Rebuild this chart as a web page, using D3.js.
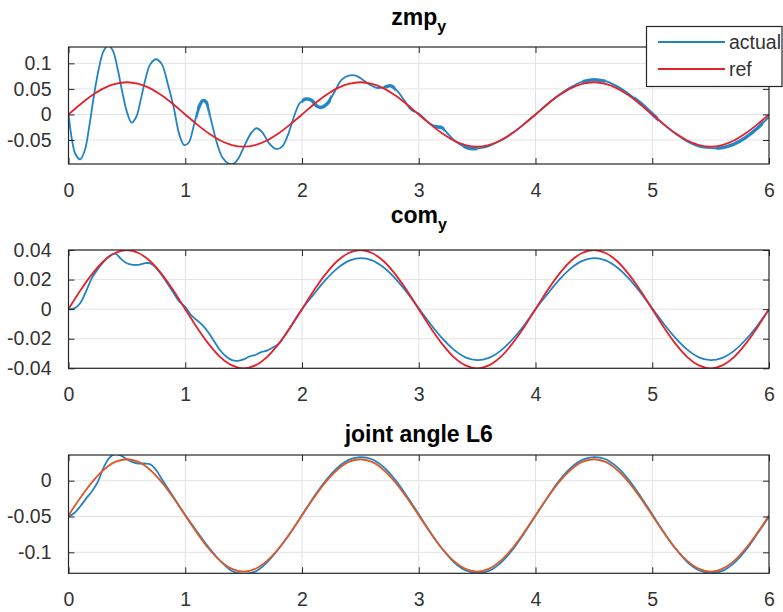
<!DOCTYPE html>
<html>
<head>
<meta charset="utf-8">
<script src="https://cdn.jsdelivr.net/npm/d3@7"></script>
<style>
  body { margin: 0; background: #fff; }
  svg { display: block; font-family: "Liberation Sans", Arial, sans-serif; }
</style>
</head>
<body>
<div id="mainer"></div>
<script>
// ---- data ----
let xTicks = [0, 1, 2, 3, 4, 5, 6];

// zmp_y
let zmpActualT = [0, 0.03, 0.06, 0.10, 0.14, 0.18, 0.22, 0.26, 0.30, 0.34, 0.38, 0.42, 0.46, 0.50, 0.54, 0.58, 0.62, 0.66, 0.70, 0.75,
  0.80, 0.85, 0.90, 0.95, 0.99, 1.03, 1.07, 1.11, 1.15, 1.18, 1.22, 1.27, 1.32, 1.37, 1.41, 1.45, 1.50, 1.56, 1.61, 1.66,
  1.72, 1.78, 1.83, 1.88, 1.93, 1.98, 2.03, 2.08, 2.13, 2.17, 2.22, 2.28, 2.34, 2.40, 2.46, 2.52, 2.58, 2.64, 2.70, 2.76,
  2.82, 2.88, 2.94, 3.00, 3.08, 3.15, 3.20, 3.25, 3.30, 3.38, 3.45, 3.52, 3.60, 3.70, 3.80, 3.90, 4.00, 4.10, 4.20, 4.30,
  4.40, 4.50, 4.60, 4.70, 4.80, 4.90, 5.00, 5.10, 5.20, 5.30, 5.40, 5.50, 5.60, 5.70, 5.80, 5.90, 6.00];
let zmpActual = [0.000, -0.050, -0.078, -0.088, -0.070, -0.020, 0.040, 0.090, 0.124, 0.135, 0.125, 0.090, 0.045, 0.005, -0.016, -0.005, 0.030, 0.070, 0.098, 0.108,
  0.098, 0.060, 0.015, -0.040, -0.060, -0.055, -0.025, 0.010, 0.027, 0.024, -0.010, -0.055, -0.085, -0.096, -0.097, -0.088, -0.065, -0.038, -0.027, -0.035,
  -0.057, -0.068, -0.063, -0.040, -0.005, 0.022, 0.030, 0.028, 0.016, 0.014, 0.022, 0.045, 0.068, 0.076, 0.076, 0.068, 0.058, 0.052, 0.053, 0.056,
  0.045, 0.026, 0.008, 0.002, -0.015, -0.024, -0.026, -0.038, -0.050, -0.062, -0.067, -0.066, -0.062, -0.051, -0.037, -0.019, 0.000, 0.020, 0.038, 0.053,
  0.064, 0.068, 0.065, 0.055, 0.040, 0.022, 0.001, -0.020, -0.038, -0.053, -0.063, -0.066, -0.065, -0.058, -0.045, -0.027, -0.005];
let zmpNoisy = [[1.10, 1.20], [2.00, 2.25], [2.70, 2.80], [3.14, 3.22], [3.38, 3.50], [4.40, 4.60], [4.85, 5.05], [5.55, 5.95]];
let refT = d3.range(0, 61).map(i => i / 10);
let zmpRef = [0, 0.0195, 0.0370, 0.0510, 0.0599, 0.0630, 0.0599, 0.0510, 0.0370, 0.0195,
  0, -0.0195, -0.0370, -0.0510, -0.0599, -0.0630, -0.0599, -0.0510, -0.0370, -0.0195,
  0, 0.0195, 0.0370, 0.0510, 0.0599, 0.0630, 0.0599, 0.0510, 0.0370, 0.0195,
  0, -0.0195, -0.0370, -0.0510, -0.0599, -0.0630, -0.0599, -0.0510, -0.0370, -0.0195,
  0, 0.0195, 0.0370, 0.0510, 0.0599, 0.0630, 0.0599, 0.0510, 0.0370, 0.0195,
  0, -0.0195, -0.0370, -0.0510, -0.0599, -0.0630, -0.0599, -0.0510, -0.0370, -0.0195, 0];
let zmpYTicks = [-0.05, 0, 0.05, 0.1];

// com_y
let comActualT = [0, 0.05, 0.10, 0.15, 0.20, 0.25, 0.30, 0.35, 0.40, 0.45, 0.50, 0.55, 0.60, 0.65, 0.70, 0.75, 0.80, 0.85, 0.90, 0.95,
  1.00, 1.05, 1.10, 1.15, 1.20, 1.25, 1.30, 1.35, 1.40, 1.45, 1.50, 1.55, 1.60, 1.65, 1.70, 1.75, 1.80, 1.90, 2.00,
  2.1, 2.2, 2.3, 2.4, 2.5, 2.6, 2.7, 2.8, 2.9, 3.0, 3.1, 3.2, 3.3, 3.4, 3.5, 3.6, 3.7, 3.8, 3.9, 4.0,
  4.1, 4.2, 4.3, 4.4, 4.5, 4.6, 4.7, 4.8, 4.9, 5.0, 5.1, 5.2, 5.3, 5.4, 5.5, 5.6, 5.7, 5.8, 5.9, 6.0];
let comActual = [0.000, 0.0005, 0.004, 0.012, 0.021, 0.027, 0.032, 0.036, 0.0375, 0.034, 0.031, 0.030, 0.030, 0.031, 0.031, 0.028, 0.023, 0.017, 0.011, 0.005,
  0.0015, -0.004, -0.0075, -0.011, -0.016, -0.022, -0.028, -0.032, -0.0345, -0.035, -0.034, -0.032, -0.031, -0.029, -0.028, -0.026, -0.0235, -0.012, 0.000,
  0.0100, 0.0196, 0.0274, 0.0326, 0.0345, 0.0330, 0.0282, 0.0207, 0.0112, 0.0005, -0.0100, -0.0196, -0.0274, -0.0326, -0.0345, -0.0330, -0.0282, -0.0207, -0.0112, 0.0000,
  0.0100, 0.0196, 0.0274, 0.0326, 0.0345, 0.0330, 0.0282, 0.0207, 0.0112, 0.0005, -0.0100, -0.0196, -0.0274, -0.0326, -0.0345, -0.0330, -0.0282, -0.0207, -0.0112, 0.0000];
let comRef = [0, 0.0124, 0.0235, 0.0324, 0.0380, 0.0400, 0.0380, 0.0324, 0.0235, 0.0124,
  0, -0.0124, -0.0235, -0.0324, -0.0380, -0.0400, -0.0380, -0.0324, -0.0235, -0.0124,
  0, 0.0124, 0.0235, 0.0324, 0.0380, 0.0400, 0.0380, 0.0324, 0.0235, 0.0124,
  0, -0.0124, -0.0235, -0.0324, -0.0380, -0.0400, -0.0380, -0.0324, -0.0235, -0.0124,
  0, 0.0124, 0.0235, 0.0324, 0.0380, 0.0400, 0.0380, 0.0324, 0.0235, 0.0124,
  0, -0.0124, -0.0235, -0.0324, -0.0380, -0.0400, -0.0380, -0.0324, -0.0235, -0.0124, 0];
let comYTicks = [-0.04, -0.02, 0, 0.02, 0.04];

// joint angle L6
let jointActualT = [0, 0.05, 0.10, 0.15, 0.20, 0.25, 0.30, 0.35, 0.40, 0.45, 0.50, 0.55, 0.60, 0.65, 0.70, 0.75, 0.80, 0.90,
  1.0, 1.1, 1.2, 1.3, 1.4, 1.5, 1.6, 1.7, 1.8, 1.9, 2.0, 2.1, 2.2, 2.3, 2.4, 2.5, 2.6, 2.7, 2.8, 2.9,
  3.0, 3.1, 3.2, 3.3, 3.4, 3.5, 3.6, 3.7, 3.8, 3.9, 4.0, 4.1, 4.2, 4.3, 4.4, 4.5, 4.6, 4.7, 4.8, 4.9,
  5.0, 5.1, 5.2, 5.3, 5.4, 5.5, 5.6, 5.7, 5.8, 5.9, 6.0];
let jointActual = [-0.050, -0.045, -0.036, -0.025, -0.015, -0.002, 0.018, 0.032, 0.037, 0.035, 0.030, 0.026, 0.024, 0.024, 0.023, 0.015, 0.002, -0.023,
  -0.048, -0.071, -0.093, -0.112, -0.126, -0.130, -0.127, -0.114, -0.095, -0.073, -0.048, -0.023, -0.0005, 0.0175, 0.029, 0.033, 0.030, 0.019, 0.001, -0.022,
  -0.047, -0.072, -0.095, -0.1135, -0.125, -0.129, -0.126, -0.115, -0.097, -0.074, -0.049, -0.024, -0.0005, 0.0175, 0.029, 0.033, 0.030, 0.019, 0.001, -0.022,
  -0.047, -0.072, -0.095, -0.1135, -0.125, -0.129, -0.126, -0.115, -0.097, -0.074, -0.050];
let jointRef = [-0.0485, -0.0242, -0.0023, 0.0150, 0.0262, 0.0300, 0.0262, 0.0150, -0.0023, -0.0242,
  -0.0485, -0.0728, -0.0947, -0.1120, -0.1232, -0.1270, -0.1232, -0.1120, -0.0947, -0.0728,
  -0.0485, -0.0242, -0.0023, 0.0150, 0.0262, 0.0300, 0.0262, 0.0150, -0.0023, -0.0242,
  -0.0485, -0.0728, -0.0947, -0.1120, -0.1232, -0.1270, -0.1232, -0.1120, -0.0947, -0.0728,
  -0.0485, -0.0242, -0.0023, 0.0150, 0.0262, 0.0300, 0.0262, 0.0150, -0.0023, -0.0242,
  -0.0485, -0.0728, -0.0947, -0.1120, -0.1232, -0.1270, -0.1232, -0.1120, -0.0947, -0.0728, -0.0485];
let jointYTicks = [-0.1, -0.05, 0];

let legendLabels = ["actual", "ref"];

// ---- layout ----
let width = 783, height = 612;
let left = 68.5, right = 769;
let blue = "#2283c3", red = "#e3222b", orange = "#dd5a2a";
let axisColor = "#262626", textColor = "#333333", gridColor = "#e3e3e3";
let fontSize = 19.5;

let svg = d3.select("#mainer").append("svg")
  .attr("width", width).attr("height", height);

let xScale = d3.scaleLinear().domain([0, 6]).range([left, right]);

let panels = [
  {id: "p1", top: 47, bottom: 164, domain: [-0.097, 0.132], yTicks: zmpYTicks, title: "zmp", sub: "y", titleY: 25,
   series: [{t: zmpActualT, v: zmpActual, color: blue, noisy: zmpNoisy}, {t: refT, v: zmpRef, color: red}]},
  {id: "p2", top: 250, bottom: 368.3, domain: [-0.04, 0.04], yTicks: comYTicks, title: "com", sub: "y", titleY: 223,
   series: [{t: comActualT, v: comActual, color: blue}, {t: refT, v: comRef, color: red}]},
  {id: "p3", top: 455, bottom: 573.3, domain: [-0.1293, 0.0359], yTicks: jointYTicks, title: "joint angle L6", sub: null, titleY: 442,
   series: [{t: jointActualT, v: jointActual, color: blue}, {t: refT, v: jointRef, color: orange}]}
];

let fmt = d => d === 0 ? "0" : String(d);

panels.forEach(function(p) {
  let yScale = d3.scaleLinear().domain(p.domain).range([p.bottom, p.top]);
  let g = svg.append("g");

  svg.append("clipPath").attr("id", "clip-" + p.id)
    .append("rect")
    .attr("x", left).attr("y", p.top)
    .attr("width", right - left).attr("height", p.bottom - p.top);

  // grid
  g.append("g").selectAll("line.gx").data(xTicks.slice(1, -1)).enter().append("line")
    .attr("x1", d => xScale(d)).attr("x2", d => xScale(d))
    .attr("y1", p.top).attr("y2", p.bottom)
    .attr("stroke", gridColor).attr("stroke-width", 1);
  g.append("g").selectAll("line.gy").data(p.yTicks).enter().append("line")
    .attr("x1", left).attr("x2", right)
    .attr("y1", d => yScale(d)).attr("y2", d => yScale(d))
    .attr("stroke", gridColor).attr("stroke-width", 1);

  // lines
  let lines = g.append("g").attr("clip-path", "url(#clip-" + p.id + ")");
  p.series.forEach(function(s) {
    let pts = s.t.map((t, i) => [t, s.v[i]]);
    let lineGen = d3.line()
      .x(d => xScale(d[0])).y(d => yScale(d[1]))
      .curve(d3.curveCatmullRom.alpha(0.5));
    lines.append("path")
      .attr("d", lineGen(pts))
      .attr("fill", "none")
      .attr("stroke", s.color)
      .attr("stroke-width", 1.8);
    if (s.noisy) {
      s.noisy.forEach(function(r) {
        let sub = pts.filter(d => d[0] >= r[0] - 0.06 && d[0] <= r[1] + 0.06);
        let cid = "clipn-" + p.id + "-" + r[0];
        svg.append("clipPath").attr("id", cid).append("rect")
          .attr("x", xScale(r[0])).attr("y", p.top)
          .attr("width", xScale(r[1]) - xScale(r[0])).attr("height", p.bottom - p.top);
        lines.append("path")
          .attr("clip-path", "url(#" + cid + ")")
          .attr("d", lineGen(sub))
          .attr("fill", "none")
          .attr("stroke", s.color)
          .attr("stroke-width", 3.6)
          .attr("stroke-opacity", 0.9);
      });
    }
  });

  // axes with inward ticks on all sides
  let tl = 6;
  let xb = g.append("g").attr("transform", `translate(0,${p.bottom})`)
    .call(d3.axisBottom(xScale).tickValues(xTicks).tickFormat(fmt).tickSizeInner(-tl).tickSizeOuter(0).tickPadding(19));
  let xt = g.append("g").attr("transform", `translate(0,${p.top})`)
    .call(d3.axisTop(xScale).tickValues(xTicks).tickFormat("").tickSizeInner(-tl).tickSizeOuter(0));
  let yl = g.append("g").attr("transform", `translate(${left},0)`)
    .call(d3.axisLeft(yScale).tickValues(p.yTicks).tickFormat(fmt).tickSizeInner(-tl).tickSizeOuter(0).tickPadding(17));
  let yr = g.append("g").attr("transform", `translate(${right},0)`)
    .call(d3.axisRight(yScale).tickValues(p.yTicks).tickFormat("").tickSizeInner(-tl).tickSizeOuter(0));
  [xb, xt, yl, yr].forEach(function(a) {
    a.select(".domain").remove();
    a.selectAll(".tick line").attr("stroke", axisColor);
    a.selectAll("text").attr("font-size", fontSize).attr("fill", textColor)
      .attr("font-family", "Liberation Sans, Arial, sans-serif");
  });

  // box
  g.append("rect")
    .attr("x", left).attr("y", p.top)
    .attr("width", right - left).attr("height", p.bottom - p.top)
    .attr("fill", "none").attr("stroke", axisColor).attr("stroke-width", 1.2);

  // title
  let title = svg.append("text")
    .attr("x", (left + right) / 2).attr("y", p.titleY)
    .attr("text-anchor", "middle")
    .attr("font-size", 23).attr("font-weight", "bold")
    .attr("fill", "#000");
  title.append("tspan").text(p.title);
  if (p.sub) {
    title.append("tspan").attr("dy", 7).attr("font-size", 16).text(p.sub);
  }
});

// legend (top panel)
let lg = svg.append("g");
lg.append("rect")
  .attr("x", 646.5).attr("y", 26.5).attr("width", 135.5).attr("height", 60)
  .attr("fill", "#fff").attr("stroke", axisColor).attr("stroke-width", 1.2);
let legendColors = [blue, red];
legendLabels.forEach(function(name, i) {
  let y = 42 + i * 27;
  lg.append("line")
    .attr("x1", 658).attr("x2", 725).attr("y1", y).attr("y2", y)
    .attr("stroke", legendColors[i]).attr("stroke-width", 1.8);
  lg.append("text")
    .attr("x", 729).attr("y", y + 7)
    .attr("font-size", fontSize).attr("fill", textColor)
    .text(name);
});
</script>
</body>
</html>
